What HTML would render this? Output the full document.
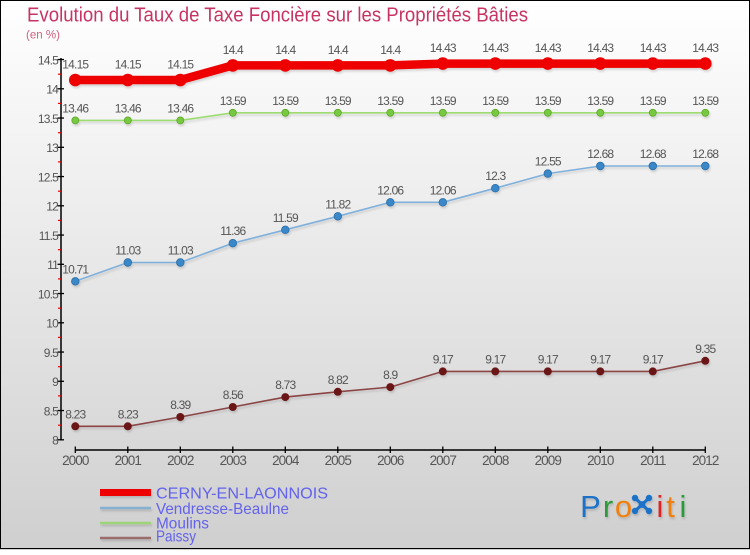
<!DOCTYPE html>
<html><head><meta charset="utf-8"><style>
html,body{margin:0;padding:0;}
body{width:750px;height:550px;overflow:hidden;}
svg text{font-family:"Liberation Sans",sans-serif;}
</style></head><body>
<svg width="750" height="550" viewBox="0 0 750 550" xmlns="http://www.w3.org/2000/svg">
<defs>
<linearGradient id="bg" x1="0" y1="0" x2="0" y2="1">
<stop offset="0" stop-color="#ffffff"/>
<stop offset="1" stop-color="#cfcfcf"/>
</linearGradient>
<filter id="sh" x="-20%" y="-20%" width="140%" height="160%">
<feDropShadow dx="1" dy="2" stdDeviation="1" flood-color="#000" flood-opacity="0.15"/>
</filter>
</defs>
<rect x="0" y="0" width="750" height="550" fill="url(#bg)"/>
<rect x="0.5" y="0.5" width="749" height="548" fill="none" stroke="#000" stroke-width="1"/>

<text x="27" y="21.5" font-size="20" fill="#c83462" textLength="501" lengthAdjust="spacingAndGlyphs">Evolution du Taux de Taxe Foncière sur les Propriétés Bâties</text>
<text x="26" y="38.5" font-size="12" fill="#d0607f" textLength="34" lengthAdjust="spacingAndGlyphs">(en %)</text>

<!-- Y axis -->
<g stroke="#000" stroke-width="1.5">
<line x1="61" y1="58" x2="61" y2="440.5"/>
</g>
<g stroke="#000" stroke-width="1.3">
<line x1="57.5" y1="439.8" x2="64" y2="439.8"/>
<line x1="57.5" y1="410.55" x2="64" y2="410.55"/>
<line x1="57.5" y1="381.3" x2="64" y2="381.3"/>
<line x1="57.5" y1="352.05" x2="64" y2="352.05"/>
<line x1="57.5" y1="322.8" x2="64" y2="322.8"/>
<line x1="57.5" y1="293.55" x2="64" y2="293.55"/>
<line x1="57.5" y1="264.3" x2="64" y2="264.3"/>
<line x1="57.5" y1="235.05" x2="64" y2="235.05"/>
<line x1="57.5" y1="205.8" x2="64" y2="205.8"/>
<line x1="57.5" y1="176.55" x2="64" y2="176.55"/>
<line x1="57.5" y1="147.3" x2="64" y2="147.3"/>
<line x1="57.5" y1="118.05" x2="64" y2="118.05"/>
<line x1="57.5" y1="88.8" x2="64" y2="88.8"/>
<line x1="57.5" y1="59.55" x2="64" y2="59.55"/>
</g>
<g stroke="#ee0000" stroke-width="1.2">
<line x1="58" y1="425.2" x2="61" y2="425.2"/>
<line x1="58" y1="395.9" x2="61" y2="395.9"/>
<line x1="58" y1="366.7" x2="61" y2="366.7"/>
<line x1="58" y1="337.4" x2="61" y2="337.4"/>
<line x1="58" y1="308.2" x2="61" y2="308.2"/>
<line x1="58" y1="278.9" x2="61" y2="278.9"/>
<line x1="58" y1="249.7" x2="61" y2="249.7"/>
<line x1="58" y1="220.4" x2="61" y2="220.4"/>
<line x1="58" y1="191.2" x2="61" y2="191.2"/>
<line x1="58" y1="161.9" x2="61" y2="161.9"/>
<line x1="58" y1="132.7" x2="61" y2="132.7"/>
<line x1="58" y1="103.4" x2="61" y2="103.4"/>
<line x1="58" y1="74.2" x2="61" y2="74.2"/>
</g>
<g font-size="12" fill="#555" text-anchor="end" letter-spacing="-0.8">
<text x="58" y="444.6">8</text>
<text x="58" y="415.4">8.5</text>
<text x="58" y="386.1">9</text>
<text x="58" y="356.9">9.5</text>
<text x="58" y="327.6">10</text>
<text x="58" y="298.4">10.5</text>
<text x="58" y="269.1">11</text>
<text x="58" y="239.9">11.5</text>
<text x="58" y="210.6">12</text>
<text x="58" y="181.4">12.5</text>
<text x="58" y="152.1">13</text>
<text x="58" y="122.9">13.5</text>
<text x="58" y="93.6">14</text>
<text x="58" y="64.4">14.5</text>
</g>

<!-- X axis -->
<line x1="75.3" y1="450" x2="705.3" y2="450" stroke="#000" stroke-width="1.5"/>
<g stroke="#000" stroke-width="1.3">
<line x1="75.3" y1="446.5" x2="75.3" y2="453"/>
<line x1="127.8" y1="446.5" x2="127.8" y2="453"/>
<line x1="180.3" y1="446.5" x2="180.3" y2="453"/>
<line x1="232.8" y1="446.5" x2="232.8" y2="453"/>
<line x1="285.3" y1="446.5" x2="285.3" y2="453"/>
<line x1="337.8" y1="446.5" x2="337.8" y2="453"/>
<line x1="390.3" y1="446.5" x2="390.3" y2="453"/>
<line x1="442.8" y1="446.5" x2="442.8" y2="453"/>
<line x1="495.3" y1="446.5" x2="495.3" y2="453"/>
<line x1="547.8" y1="446.5" x2="547.8" y2="453"/>
<line x1="600.3" y1="446.5" x2="600.3" y2="453"/>
<line x1="652.8" y1="446.5" x2="652.8" y2="453"/>
<line x1="705.3" y1="446.5" x2="705.3" y2="453"/>
</g>
<g font-size="13.5" fill="#555" text-anchor="middle" letter-spacing="-0.9">
<text x="75.3" y="465">2000</text>
<text x="127.8" y="465">2001</text>
<text x="180.3" y="465">2002</text>
<text x="232.8" y="465">2003</text>
<text x="285.3" y="465">2004</text>
<text x="337.8" y="465">2005</text>
<text x="390.3" y="465">2006</text>
<text x="442.8" y="465">2007</text>
<text x="495.3" y="465">2008</text>
<text x="547.8" y="465">2009</text>
<text x="600.3" y="465">2010</text>
<text x="652.8" y="465">2011</text>
<text x="705.3" y="465">2012</text>
</g>

<!-- Paissy -->
<g filter="url(#sh)">
<polyline fill="none" stroke="#8a4444" stroke-width="1.6" points="75.3,426.3 127.8,426.3 180.3,417.0 232.8,407.0 285.3,397.1 337.8,391.8 390.3,387.1 442.8,371.4 495.3,371.4 547.8,371.4 600.3,371.4 652.8,371.4 705.3,360.8"/>
<g fill="#6a1616">
<circle cx="75.3" cy="426.3" r="4"/><circle cx="127.8" cy="426.3" r="4"/><circle cx="180.3" cy="417.0" r="4"/><circle cx="232.8" cy="407.0" r="4"/><circle cx="285.3" cy="397.1" r="4"/><circle cx="337.8" cy="391.8" r="4"/><circle cx="390.3" cy="387.1" r="4"/><circle cx="442.8" cy="371.4" r="4"/><circle cx="495.3" cy="371.4" r="4"/><circle cx="547.8" cy="371.4" r="4"/><circle cx="600.3" cy="371.4" r="4"/><circle cx="652.8" cy="371.4" r="4"/><circle cx="705.3" cy="360.8" r="4"/>
</g>
</g>

<!-- Vendresse-Beaulne -->
<g filter="url(#sh)">
<polyline fill="none" stroke="#7fb0dc" stroke-width="1.6" points="75.3,281.3 127.8,262.5 180.3,262.5 232.8,243.2 285.3,229.8 337.8,216.3 390.3,202.3 442.8,202.3 495.3,188.2 547.8,173.6 600.3,166.0 652.8,166.0 705.3,166.0"/>
<g fill="#3a88c8" stroke="#2a6ca6" stroke-width="0.8">
<circle cx="75.3" cy="281.3" r="3.8"/><circle cx="127.8" cy="262.5" r="3.8"/><circle cx="180.3" cy="262.5" r="3.8"/><circle cx="232.8" cy="243.2" r="3.8"/><circle cx="285.3" cy="229.8" r="3.8"/><circle cx="337.8" cy="216.3" r="3.8"/><circle cx="390.3" cy="202.3" r="3.8"/><circle cx="442.8" cy="202.3" r="3.8"/><circle cx="495.3" cy="188.2" r="3.8"/><circle cx="547.8" cy="173.6" r="3.8"/><circle cx="600.3" cy="166.0" r="3.8"/><circle cx="652.8" cy="166.0" r="3.8"/><circle cx="705.3" cy="166.0" r="3.8"/>
</g>
</g>

<!-- Moulins -->
<g filter="url(#sh)">
<polyline fill="none" stroke="#9ddc70" stroke-width="1.6" points="75.3,120.4 127.8,120.4 180.3,120.4 232.8,112.8 285.3,112.8 337.8,112.8 390.3,112.8 442.8,112.8 495.3,112.8 547.8,112.8 600.3,112.8 652.8,112.8 705.3,112.8"/>
<g fill="#78c843" stroke="#5aa828" stroke-width="0.8">
<circle cx="75.3" cy="120.4" r="3.5"/><circle cx="127.8" cy="120.4" r="3.5"/><circle cx="180.3" cy="120.4" r="3.5"/><circle cx="232.8" cy="112.8" r="3.5"/><circle cx="285.3" cy="112.8" r="3.5"/><circle cx="337.8" cy="112.8" r="3.5"/><circle cx="390.3" cy="112.8" r="3.5"/><circle cx="442.8" cy="112.8" r="3.5"/><circle cx="495.3" cy="112.8" r="3.5"/><circle cx="547.8" cy="112.8" r="3.5"/><circle cx="600.3" cy="112.8" r="3.5"/><circle cx="652.8" cy="112.8" r="3.5"/><circle cx="705.3" cy="112.8" r="3.5"/>
</g>
</g>

<!-- CERNY -->
<g filter="url(#sh)">
<polyline fill="none" stroke="#ee0000" stroke-width="8.5" stroke-linejoin="round" points="75.3,80.0 127.8,80.0 180.3,80.0 232.8,65.4 285.3,65.4 337.8,65.4 390.3,65.4 442.8,63.6 495.3,63.6 547.8,63.6 600.3,63.6 652.8,63.6 705.3,63.6"/>
<g fill="#ee0000">
<circle cx="75.3" cy="80.0" r="6.3"/><circle cx="127.8" cy="80.0" r="6.3"/><circle cx="180.3" cy="80.0" r="6.3"/><circle cx="232.8" cy="65.4" r="6.3"/><circle cx="285.3" cy="65.4" r="6.3"/><circle cx="337.8" cy="65.4" r="6.3"/><circle cx="390.3" cy="65.4" r="6.3"/><circle cx="442.8" cy="63.6" r="6.3"/><circle cx="495.3" cy="63.6" r="6.3"/><circle cx="547.8" cy="63.6" r="6.3"/><circle cx="600.3" cy="63.6" r="6.3"/><circle cx="652.8" cy="63.6" r="6.3"/><circle cx="705.3" cy="63.6" r="6.3"/>
</g>
</g>

<!-- data labels -->
<g font-size="12" fill="#555" text-anchor="middle" letter-spacing="-0.8">
<text x="75.3" y="68.5">14.15</text><text x="127.8" y="68.5">14.15</text><text x="180.3" y="68.5">14.15</text>
<text x="232.8" y="54">14.4</text><text x="285.3" y="54">14.4</text><text x="337.8" y="54">14.4</text><text x="390.3" y="54">14.4</text>
<text x="442.8" y="52.2">14.43</text><text x="495.3" y="52.2">14.43</text><text x="547.8" y="52.2">14.43</text><text x="600.3" y="52.2">14.43</text><text x="652.8" y="52.2">14.43</text><text x="705.3" y="52.2">14.43</text>

<text x="75.3" y="112.4">13.46</text><text x="127.8" y="112.4">13.46</text><text x="180.3" y="112.4">13.46</text>
<text x="232.8" y="104.8">13.59</text><text x="285.3" y="104.8">13.59</text><text x="337.8" y="104.8">13.59</text><text x="390.3" y="104.8">13.59</text><text x="442.8" y="104.8">13.59</text><text x="495.3" y="104.8">13.59</text><text x="547.8" y="104.8">13.59</text><text x="600.3" y="104.8">13.59</text><text x="652.8" y="104.8">13.59</text><text x="705.3" y="104.8">13.59</text>

<text x="75.3" y="273.3">10.71</text><text x="127.8" y="254.5">11.03</text><text x="180.3" y="254.5">11.03</text><text x="232.8" y="235.2">11.36</text><text x="285.3" y="221.8">11.59</text><text x="337.8" y="208.3">11.82</text><text x="390.3" y="194.3">12.06</text><text x="442.8" y="194.3">12.06</text><text x="495.3" y="180.2">12.3</text><text x="547.8" y="165.6">12.55</text><text x="600.3" y="158">12.68</text><text x="652.8" y="158">12.68</text><text x="705.3" y="158">12.68</text>

<text x="75.3" y="418.3">8.23</text><text x="127.8" y="418.3">8.23</text><text x="180.3" y="409">8.39</text><text x="232.8" y="399">8.56</text><text x="285.3" y="389.1">8.73</text><text x="337.8" y="383.8">8.82</text><text x="390.3" y="379.1">8.9</text><text x="442.8" y="363.4">9.17</text><text x="495.3" y="363.4">9.17</text><text x="547.8" y="363.4">9.17</text><text x="600.3" y="363.4">9.17</text><text x="652.8" y="363.4">9.17</text><text x="705.3" y="352.8">9.35</text>
</g>

<!-- Legend -->
<g filter="url(#sh)">
<rect x="100" y="489" width="51" height="7" fill="#ee0000"/>
<line x1="100" y1="508" x2="151" y2="508" stroke="#86b0d0" stroke-width="2.5"/>
<line x1="100" y1="523" x2="151" y2="523" stroke="#9dd478" stroke-width="2.5"/>
<line x1="100" y1="538" x2="151" y2="538" stroke="#9a6c6c" stroke-width="2.5"/>
</g>
<g font-size="16" fill="#6262ee">
<text x="156" y="498.5" textLength="172" lengthAdjust="spacingAndGlyphs">CERNY-EN-LAONNOIS</text>
<text x="156" y="514" textLength="133" lengthAdjust="spacingAndGlyphs">Vendresse-Beaulne</text>
<text x="156" y="528.5" textLength="53" lengthAdjust="spacingAndGlyphs">Moulins</text>
<text x="156" y="541.5" textLength="40" lengthAdjust="spacingAndGlyphs">Paissy</text>
</g>

<!-- Proxiti logo -->
<g filter="url(#sh)" font-size="31" text-anchor="middle">
<text x="590.5" y="517" fill="#1a72c8">P</text>
<text x="608" y="517" fill="#2a9a3a">r</text>
<text x="623.5" y="517" fill="#f08010">o</text>
<g stroke="#1a72c8" stroke-width="3.2" stroke-linecap="round">
<line x1="635" y1="498" x2="649" y2="511"/>
<line x1="649" y1="498" x2="635" y2="511"/>
</g>
<g fill="#1a72c8">
<circle cx="635" cy="498" r="3.2"/><circle cx="649" cy="498" r="3.2"/><circle cx="635" cy="511" r="3.2"/><circle cx="649" cy="511" r="3.2"/><circle cx="642" cy="504.5" r="3.4"/>
</g>
<text x="660" y="517" fill="#e02020">i</text>
<text x="670.5" y="517" fill="#f08010">t</text>
<text x="683" y="517" fill="#2a9a3a">i</text>
</g>
</svg>
</body></html>
